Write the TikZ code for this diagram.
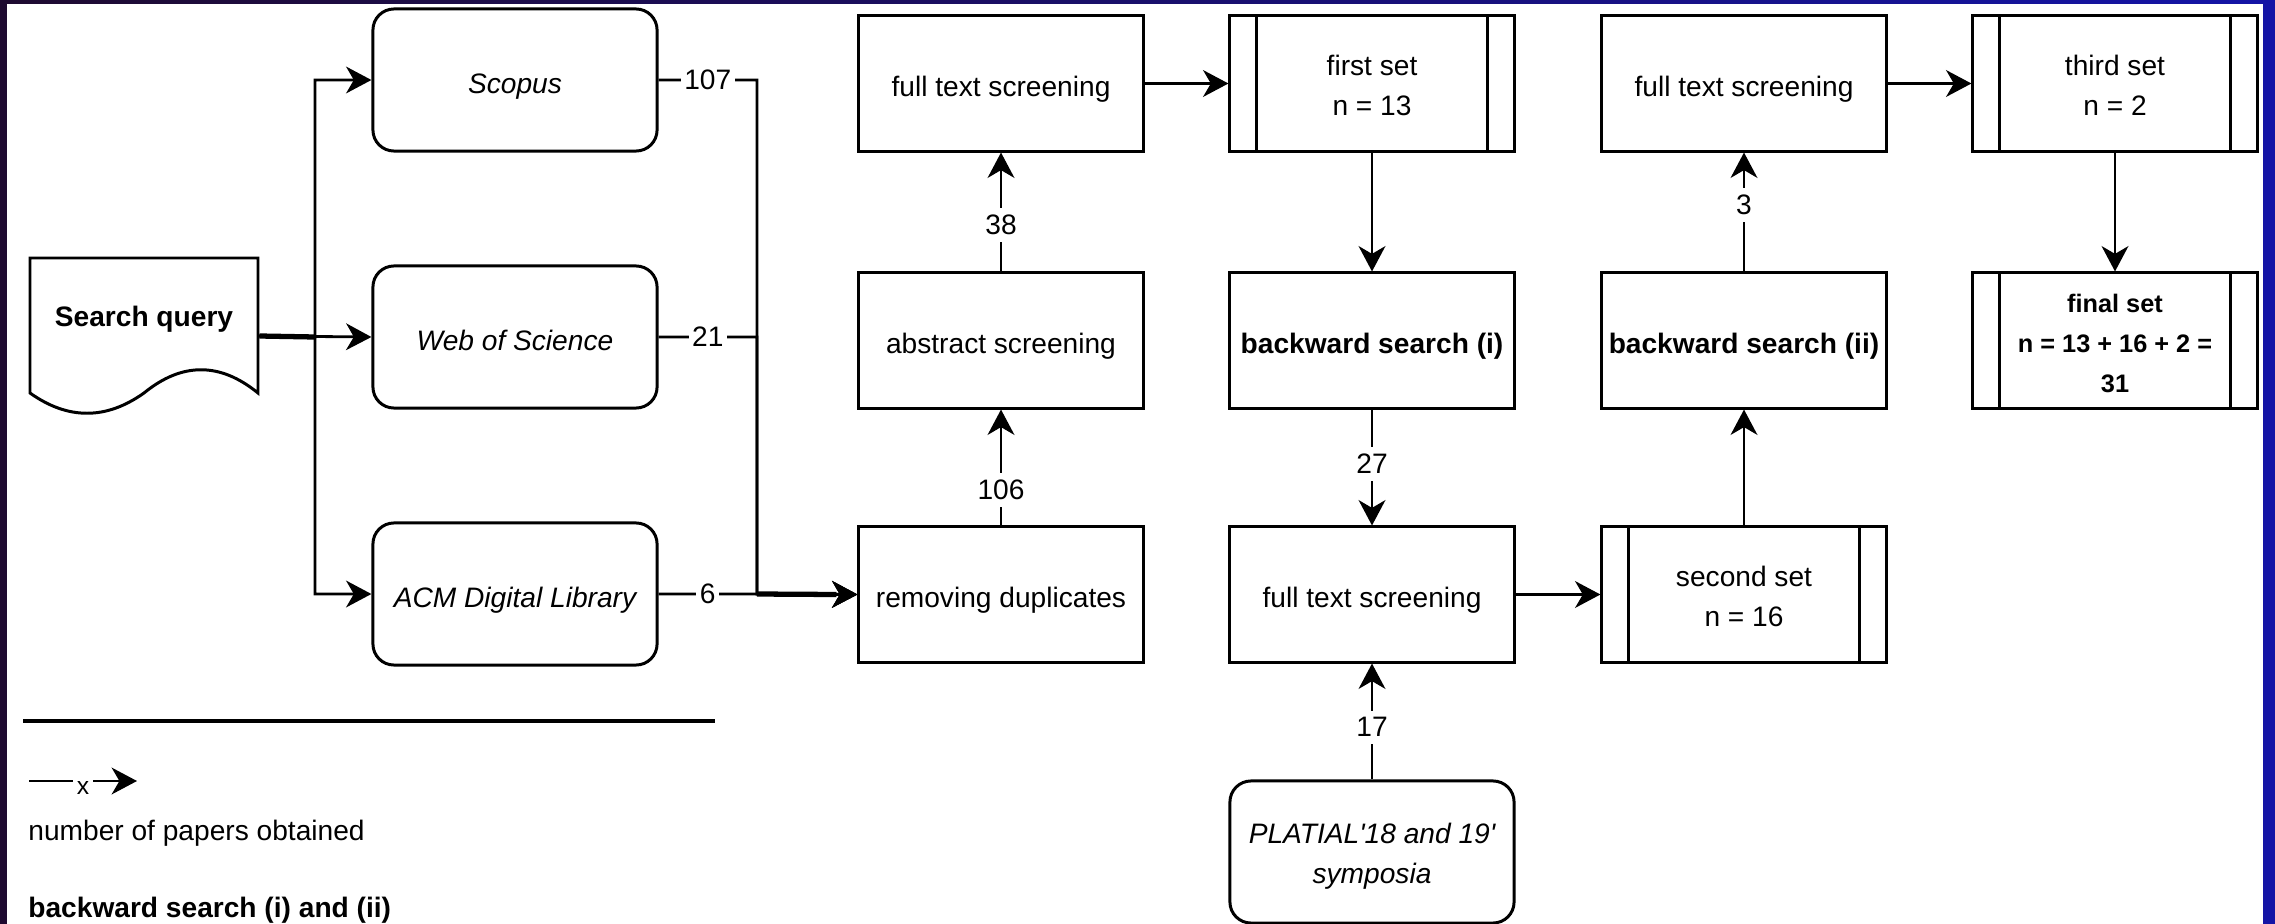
\documentclass[tikz,border=0pt]{standalone}
\usepackage{fontspec}
\setmainfont{Liberation Sans}
\usetikzlibrary{arrows.meta,calc}
\definecolor{bgl}{HTML}{1E0A30}
\definecolor{bgm}{HTML}{30107E}
\definecolor{bgr}{HTML}{1414A6}
\newcommand{\topstrut}{\rule{0pt}{8.6pt}}
\newcommand{\botstrut}{\rule[-2pt]{0pt}{2pt}}
\begin{document}
\begin{tikzpicture}[x=0.01cm,y=-0.01cm,
  line width=0.8pt,
  every node/.style={font=\fontsize{8}{11.4}\selectfont, inner sep=0pt},
  box/.style={draw, line width=0.85pt, minimum width=2.84cm, minimum height=1.35cm, align=center, fill=white},
  one/.style={text height=7.6pt, text depth=0pt},
  rbox/.style={box, rounded corners=6pt, minimum height=1.42cm, font=\fontsize{8}{11.4}\selectfont\itshape},
  bbox/.style={box, one, font=\fontsize{8}{11.4}\selectfont\bfseries},
  setbox/.style={box, path picture={
     \draw[line width=0.85pt] ([xshift=0.27cm]path picture bounding box.north west) -- ([xshift=0.27cm]path picture bounding box.south west);
     \draw[line width=0.85pt] ([xshift=-0.27cm]path picture bounding box.north east) -- ([xshift=-0.27cm]path picture bounding box.south east);}},
  arr/.style={-{Stealth[length=7.2pt,width=7.6pt,inset=2.2pt]}},
  lbl/.style={fill=white, inner xsep=1pt, inner ysep=2pt, font=\fontsize{8}{9}\selectfont},
]
\useasboundingbox (0,0) rectangle (2275,924);
\shade[left color=bgl, middle color=bgm, right color=bgr] (0,0) rectangle (2275,924);
\fill[white] (7,4) rectangle (2263,924);

% search query document
\node[minimum width=2.28cm, minimum height=1.56cm] (sq) at (144,336) {};
\draw[line width=0.85pt, fill=white] (30,258) -- (258,258) -- (258,393)
  .. controls (220,362) and (182,362) .. (144,393)
  .. controls (106,420) and (68,420) .. (30,393) -- cycle;
\node[font=\fontsize{8}{10}\selectfont\bfseries] (sqt) at (144,319) {Search query};

% databases
\node[rbox, one] (scopus) at (515,80) {Scopus};
\node[rbox, one] (wos) at (515,337) {Web of Science};
\node[rbox, one] (acm) at (515,594) {ACM Digital Library};

% column 3
\node[box, one] (fts1) at (1001,83.5) {full text screening};
\node[box, one] (abs) at (1001,340.5) {abstract screening};
\node[box, one] (rd) at (1001,594.5) {removing duplicates};

% column 4
\node[setbox] (fs) at (1372,83.5) {\topstrut first set\\n = 13\botstrut};
\node[bbox] (bs1) at (1372,340.5) {backward search (i)};
\node[box, one] (fts3) at (1372,594.5) {full text screening};
\node[rbox] (pl) at (1372,852) {\topstrut PLATIAL\textquotesingle 18 and 19\textquotesingle\\symposia\botstrut};

% column 5
\node[box, one] (fts2) at (1744,83.5) {full text screening};
\node[bbox] (bs2) at (1744,340.5) {backward search (ii)};
\node[setbox] (ss) at (1744,594.5) {\topstrut second set\\n = 16\botstrut};

% column 6
\node[setbox] (ts) at (2115,83.5) {\topstrut third set\\n = 2\botstrut};
\node[setbox, font=\fontsize{7.2}{11.4}\selectfont\bfseries] (fin) at (2115,340.5) {\topstrut final set\\n = 13 + 16 + 2 =\\31\botstrut};

% connectors
\coordinate (tr) at (315,337);
\draw[arr] (sq.east) -- (tr) |- (scopus.west);
\draw[arr] (sq.east) -- (wos.west);
\draw[arr] (sq.east) -- (tr) |- (acm.west);
\draw[line width=1.5pt] (sq.east) -- (tr);

\coordinate (j) at (757,594);
\draw[arr] (scopus.east) -- node[lbl]{107} (scopus.east -| j) -- (j) -- (rd.west);
\draw[arr] (wos.east) -- node[lbl]{21} (wos.east -| j) -- (j) -- (rd.west);
\draw[arr] (acm.east) -- node[lbl]{6} (j) -- (rd.west);
\draw[line width=1.5pt] (j) -- ([xshift=-6pt]rd.west);

\draw[arr] (rd.north) -- node[lbl,pos=0.31]{106} (abs.south);
\draw[arr] (abs.north) -- node[lbl,pos=0.39]{38} (fts1.south);
\draw[arr] (fts1.east) -- (fs.west);
\draw[arr] (fs.south) -- (bs1.north);
\draw[arr] (bs1.south) -- node[lbl,pos=0.47]{27} (fts3.north);
\draw[arr] (pl.north) -- node[lbl,pos=0.45]{17} (fts3.south);
\draw[arr] (fts3.east) -- (ss.west);
\draw[arr] (ss.north) -- (bs2.south);
\draw[arr] (bs2.north) -- node[lbl,pos=0.56]{3} (fts2.south);
\draw[arr] (fts2.east) -- (ts.west);
\draw[arr] (ts.south) -- (fin.north);

% legend
\draw[line width=0.9pt] (23,721) -- (715,721);
\coordinate (la) at (29,781);
\coordinate (lb) at (137,781);
\draw[arr] (la) -- node[lbl, inner ysep=0.5pt, font=\fontsize{7}{8}\selectfont, yshift=-2pt]{x} (lb);
\node[anchor=west] (lt1) at (27,833) {number of papers obtained};
\node[anchor=west, font=\fontsize{8}{10}\selectfont\bfseries] (lt2) at (27,910) {backward search (i) and (ii)};
\end{tikzpicture}
\end{document}
